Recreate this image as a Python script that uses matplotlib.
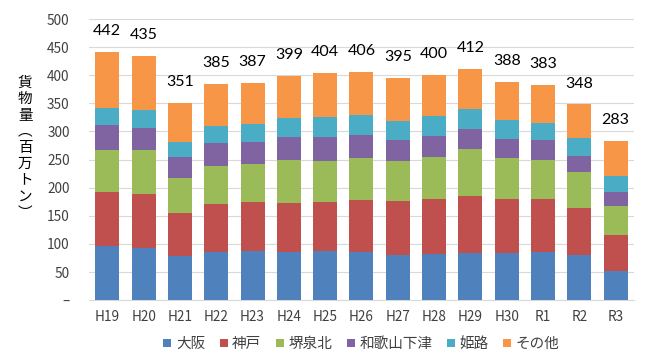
import matplotlib
matplotlib.use("Agg")
import matplotlib.pyplot as plt
import numpy as np

plt.rcParams["font.family"] = ["Noto Sans CJK JP", "DejaVu Sans"]

years = ["H19", "H20", "H21", "H22", "H23", "H24", "H25", "H26",
         "H27", "H28", "H29", "H30", "R1", "R2", "R3"]
osaka = [96, 93, 78, 85, 88, 85, 87, 85, 80, 82, 84, 84, 85, 80, 52]
kobe = [96, 96, 77, 86, 86, 88, 87, 93, 96, 98, 101, 96, 95, 84, 64]
sakai = [75, 78, 62, 67, 68, 76, 73, 75, 71, 74, 84, 73, 69, 64, 51]
wakayama = [44, 39, 37, 41, 39, 41, 43, 41, 38, 38, 35, 34, 36, 28, 25]
himeji = [31, 32, 27, 31, 32, 34, 36, 35, 33, 35, 36, 33, 30, 32, 29]
other = [100, 97, 70, 75, 74, 75, 78, 77, 77, 73, 72, 68, 68, 60, 62]
totals = [442, 435, 351, 385, 387, 399, 404, 406, 395, 400, 412, 388, 383, 348, 283]

series = [("大阪", osaka, "#4F81BD"),
          ("神戸", kobe, "#C0504D"),
          ("堺泉北", sakai, "#9BBB59"),
          ("和歌山下津", wakayama, "#8064A2"),
          ("姫路", himeji, "#4BACC6"),
          ("その他", other, "#F79646")]

fig = plt.figure(figsize=(6.46, 3.59), dpi=100)
ax = fig.add_axes([0.138, 0.164, 0.843, 0.783])

x = np.arange(len(years))
bottom = np.zeros(len(years))
for name, vals, color in series:
    ax.bar(x, vals, 0.66, bottom=bottom, color=color, label=name, zorder=3)
    bottom += np.array(vals)

for xi, t in zip(x, totals):
    ax.text(xi, t + 37, str(t), ha="center", va="center",
            fontsize=11.5, family="Lato", color="#000000")

ax.set_xlim(-0.5, len(years) - 0.5)
ax.set_ylim(0, 500)
ax.set_yticks(np.arange(0, 501, 50))
ax.set_yticklabels(["–"] + [str(v) for v in range(50, 501, 50)])
ax.set_xticks(x)
ax.set_xticklabels(years)
ax.tick_params(axis="both", length=0, labelsize=9.8, colors="#404040")
ax.tick_params(axis="y", pad=14)
ax.tick_params(axis="x", pad=7)
ax.grid(axis="y", color="#D9D9D9", linewidth=0.8, zorder=0)
for s in ["top", "right", "left"]:
    ax.spines[s].set_visible(False)
ax.spines["bottom"].set_color("#D9D9D9")

ylabel = "\n".join("貨物量︵百万トン︶")
fig.text(0.039, 0.588, ylabel, ha="center", va="center", fontsize=10.5,
         linespacing=1.2, color="#000000")

ax.legend(loc="upper center", bbox_to_anchor=(0.5, -0.085), ncol=6,
          frameon=False, fontsize=10.5, handlelength=0.55, handleheight=0.55,
          handletextpad=0.3, columnspacing=1.0, labelcolor="#404040")

fig.savefig("out.png", dpi=100)
